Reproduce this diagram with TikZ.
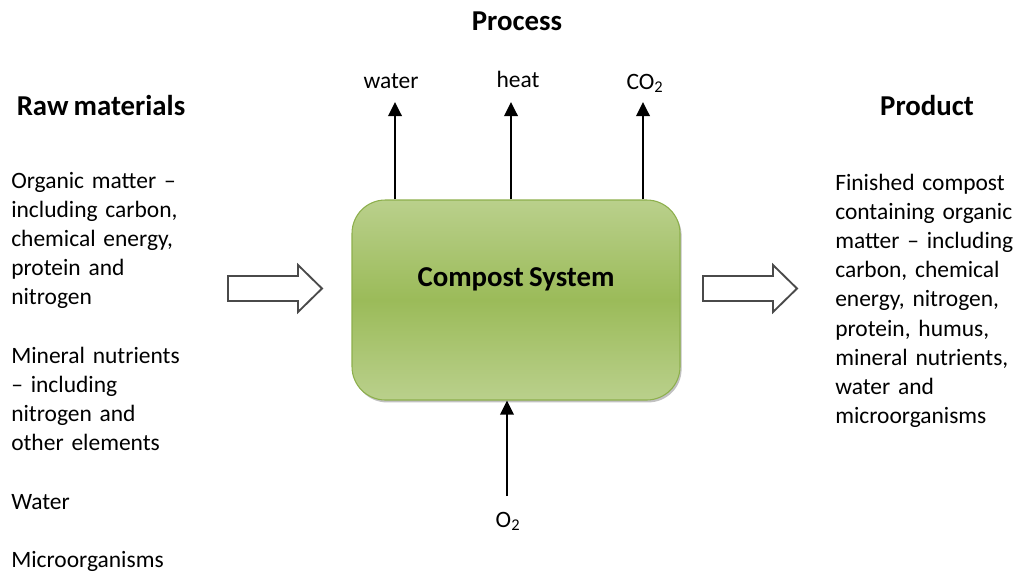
\documentclass[tikz,border=0pt]{standalone}
\usepackage{fontspec}
\setmainfont[WordSpace={0.8,0,0}]{Carlito}
\usetikzlibrary{arrows.meta,shadows}

% greens of the system box: light at the rim, darker in the middle
\definecolor{boxlight}{HTML}{C4D79D}
\definecolor{boxmid}{HTML}{9BBB59}
\definecolor{boxedge}{HTML}{8DAF4C}
\definecolor{blockgray}{HTML}{4A4A4A}

\pgfdeclareverticalshading{systemshade}{100bp}{%
  color(0bp)=(boxlight); color(25bp)=(boxlight!75!boxmid);
  color(50bp)=(boxmid); color(75bp)=(boxlight!75!boxmid);
  color(100bp)=(boxlight)}

\tikzset{
  bodytext/.style={font=\fontsize{17.6}{21.9}\selectfont, inner sep=0pt, align=left},
  heading/.style={font=\fontsize{21.6}{26}\selectfont\bfseries, inner sep=0pt, anchor=base},
  flowlabel/.style={font=\fontsize{17.6}{21.9}\selectfont, inner sep=0pt, anchor=base},
  flow/.style={line width=1.8pt, draw=black, -{Triangle[width=10pt,length=10.5pt]}},
  sysbox/.style={rounded corners=25pt, draw=boxedge, line width=0.8pt,
    shading=systemshade,
    drop shadow={shadow xshift=1.2pt, shadow yshift=-1.8pt, opacity=0.35, fill=black!70},
    minimum width=246pt, minimum height=150pt, inner sep=0pt,
    text height=0pt, text depth=21pt,
    font=\fontsize{21.6}{26}\selectfont\bfseries},
  blockarrow/.style={draw=blockgray, line width=1.4pt, fill=white, line join=miter}
}

\begin{document}
\begin{tikzpicture}[x=0.75pt, y=-0.75pt]
\useasboundingbox (0,0) rectangle (1020,576);

% headings
\node[heading] (hproc) at (517,30) {Process};
\node[heading] (hraw) at (101,115) {Raw materials};
\node[heading] (hprod) at (927,115) {Product};

% the compost system
\node[sysbox] (sys) at (516,300) {Compost System};

% outputs leaving the top of the box
\node[flowlabel] (lw) at (391,88) {water};
\node[flowlabel] (lh) at (518,87) {heat};
\node[flowlabel] (lc) at (645,89) {CO\textsubscript{2}};
\coordinate (wtop) at (395,102);
\coordinate (htop) at (511,102);
\coordinate (ctop) at (643,102);
\draw[flow] (sys.north -| wtop) -- (wtop);
\draw[flow] (sys.north -| htop) -- (htop);
\draw[flow] (sys.north -| ctop) -- (ctop);

% oxygen entering from below
\node[flowlabel] (lo) at (508,527) {O\textsubscript{2}};
\coordinate (obot) at (507,496);
\draw[flow] (obot) -- (sys.south -| obot);

% raw materials
\node[bodytext, anchor=base west, text width=160pt] (raw) at (11,188) {%
Organic matter –\\ including carbon,\\ chemical energy,\\ protein and\\ nitrogen\\[21.9pt]%
Mineral nutrients\\ – including\\ nitrogen and\\ other elements\\[21.9pt]%
Water\\[21.9pt]%
Microorganisms};

% product
\node[bodytext, anchor=base west, text width=150pt] (prod) at (835,190) {%
Finished compost\\ containing organic\\ matter – including\\ carbon, chemical\\ energy, nitrogen,\\ protein, humus,\\ mineral nutrients,\\ water and\\ microorganisms};

% block arrows feeding in and out
\draw[blockarrow] (228,276) -- (298,276) -- (298,265) -- (322,288.5)
  -- (298,312) -- (298,301) -- (228,301) -- cycle;
\draw[blockarrow] (703,276) -- (773,276) -- (773,265) -- (797,288.5)
  -- (773,312) -- (773,301) -- (703,301) -- cycle;
\end{tikzpicture}
\end{document}
